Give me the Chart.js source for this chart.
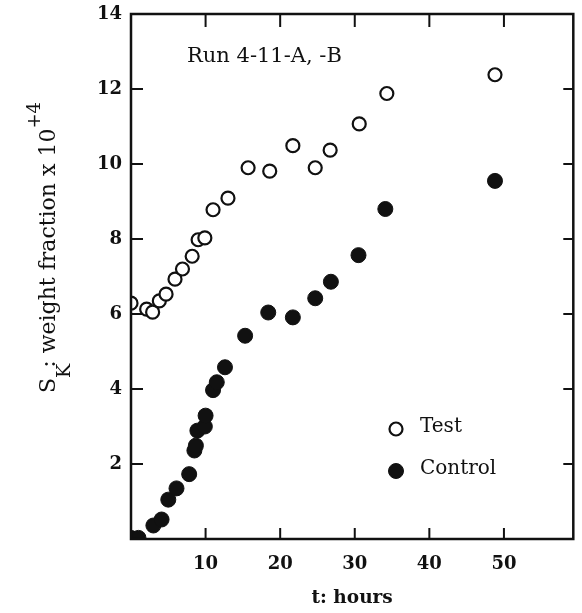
<!DOCTYPE html>
<html lang="en">
<head>
<meta charset="UTF-8" />
<title>Run 4-11-A, -B</title>
<script src="https://cdn.jsdelivr.net/npm/chart.js@4"></script>
<style>
  html, body { margin: 0; padding: 0; background: #fff; }
  #wrap { width: 582px; height: 613px; }
</style>
</head>
<body>
<div id="wrap"><canvas id="chart" width="582" height="613"></canvas></div>
<script>
// values (t in hours, S_K in weight fraction x 10^4)
const testHours  = [0, 2.1, 2.9, 3.8, 4.7, 5.9, 6.9, 8.2, 9.0, 9.9, 11.0, 13.0, 15.7, 18.6, 21.7, 24.7, 26.7, 30.6, 34.3, 48.8];
const testValues = [6.29, 6.13, 6.05, 6.35, 6.53, 6.93, 7.2, 7.54, 7.98, 8.03, 8.78, 9.09, 9.9, 9.81, 10.49, 9.9, 10.37, 11.07, 11.88, 12.38];

const controlHours  = [0, 1.0, 3.0, 4.1, 5.0, 6.1, 7.8, 8.5, 8.7, 8.9, 9.9, 10.0, 11.0, 11.5, 12.6, 15.3, 18.4, 21.7, 24.7, 26.8, 30.5, 34.1, 48.8];
const controlValues = [0.03, 0.03, 0.36, 0.52, 1.05, 1.35, 1.73, 2.36, 2.49, 2.89, 3.0, 3.29, 3.97, 4.18, 4.58, 5.42, 6.04, 5.91, 6.42, 6.86, 7.57, 8.8, 9.55];

const xTickValues = [10, 20, 30, 40, 50];
const yTickValues = [2, 4, 6, 8, 10, 12, 14];

const serif = "'DejaVu Serif', 'Liberation Serif', serif";
const ink = "#111";

const toPoints = (xs, ys) => xs.map((x, i) => ({ x: x, y: ys[i] }));

// frame with inward ticks on all four sides, plus annotation, legend and y title
const framePlugin = {
  id: "frame",
  afterDraw(chart) {
    const ctx = chart.ctx;
    const a = chart.chartArea;
    const xs = chart.scales.x;
    const ys = chart.scales.y;
    ctx.save();
    ctx.strokeStyle = ink;
    ctx.lineWidth = 2.5;
    ctx.strokeRect(a.left, a.top, a.right - a.left, a.bottom - a.top);
    ctx.lineWidth = 2;
    ctx.beginPath();
    xTickValues.forEach((v) => {
      const px = xs.getPixelForValue(v);
      ctx.moveTo(px, a.bottom); ctx.lineTo(px, a.bottom - 11);
      ctx.moveTo(px, a.top); ctx.lineTo(px, a.top + 13);
    });
    yTickValues.forEach((v) => {
      const py = ys.getPixelForValue(v);
      if (v >= 14) return;
      ctx.moveTo(a.left, py); ctx.lineTo(a.left + 12, py);
      ctx.moveTo(a.right, py); ctx.lineTo(a.right - 10, py);
    });
    ctx.stroke();

    // run label
    ctx.fillStyle = ink;
    ctx.font = "21px " + serif;
    ctx.textAlign = "left";
    ctx.textBaseline = "alphabetic";
    ctx.fillText("Run 4-11-A, -B", 187, 62);

    // legend
    const items = [
      { label: "Test", ds: chart.data.datasets[0], y: 429 },
      { label: "Control", ds: chart.data.datasets[1], y: 471 }
    ];
    items.forEach((it) => {
      ctx.beginPath();
      ctx.arc(396, it.y, it.ds.pointRadius, 0, Math.PI * 2);
      ctx.fillStyle = it.ds.backgroundColor;
      ctx.fill();
      ctx.lineWidth = it.ds.borderWidth;
      ctx.strokeStyle = it.ds.borderColor;
      ctx.stroke();
      ctx.fillStyle = ink;
      ctx.font = "20px " + serif;
      ctx.textBaseline = "alphabetic";
      ctx.fillText(it.label, 420, it.y + 3);
    });

    // y axis title: S_K: weight fraction x 10^+4
    ctx.translate(55, 393);
    ctx.rotate(-Math.PI / 2);
    ctx.textBaseline = "alphabetic";
    ctx.textAlign = "left";
    let x = 0;
    ctx.font = "22px " + serif;
    ctx.fillText("S", x, 0);
    x += ctx.measureText("S").width;
    ctx.font = "19px " + serif;
    ctx.fillText("K", x, 15);
    x += ctx.measureText("K").width - 4;
    ctx.font = "22px " + serif;
    const main = ": weight fraction x 10";
    ctx.fillText(main, x, 0);
    x += ctx.measureText(main).width;
    ctx.font = "18px " + serif;
    ctx.fillText("+4", x, -15);
    ctx.restore();
  }
};

const ctx = document.getElementById("chart").getContext("2d");
new Chart(ctx, {
  type: "scatter",
  data: {
    datasets: [
      {
        label: "Test",
        data: toPoints(testHours, testValues),
        pointStyle: "circle",
        pointRadius: 6.5,
        pointHoverRadius: 6.5,
        borderWidth: 2.2,
        borderColor: ink,
        backgroundColor: "#fff"
      },
      {
        label: "Control",
        data: toPoints(controlHours, controlValues),
        pointStyle: "circle",
        pointRadius: 7.5,
        pointHoverRadius: 7.5,
        borderWidth: 1,
        borderColor: ink,
        backgroundColor: ink
      }
    ]
  },
  options: {
    responsive: false,
    animation: false,
    layout: { padding: { top: 14, right: 4, left: 0, bottom: 0 } },
    plugins: {
      legend: { display: false },
      tooltip: { enabled: false }
    },
    scales: {
      x: {
        type: "linear",
        min: 0,
        max: 59.3,
        afterBuildTicks: (s) => { s.ticks = xTickValues.map((v) => ({ value: v })); },
        afterFit: (s) => { s.height = 74; s.paddingLeft = 0; s.paddingRight = 0; },
        grid: { display: false, drawTicks: false },
        border: { display: false },
        ticks: { padding: 15, color: ink, font: { family: serif, size: 18, weight: "bold" }, maxRotation: 0 },
        title: {
          display: true,
          text: "t: hours",
          color: ink,
          font: { family: serif, size: 18.5, weight: "bold" },
          padding: { top: 8 }
        }
      },
      y: {
        type: "linear",
        min: 0,
        max: 14,
        afterBuildTicks: (s) => { s.ticks = yTickValues.map((v) => ({ value: v })); },
        afterFit: (s) => { s.width = 131; s.paddingTop = 0; s.paddingBottom = 0; },
        grid: { display: false, drawTicks: false },
        border: { display: false },
        ticks: { padding: 9, color: ink, font: { family: serif, size: 18, weight: "bold" } }
      }
    }
  },
  plugins: [framePlugin]
});
</script>
</body>
</html>
